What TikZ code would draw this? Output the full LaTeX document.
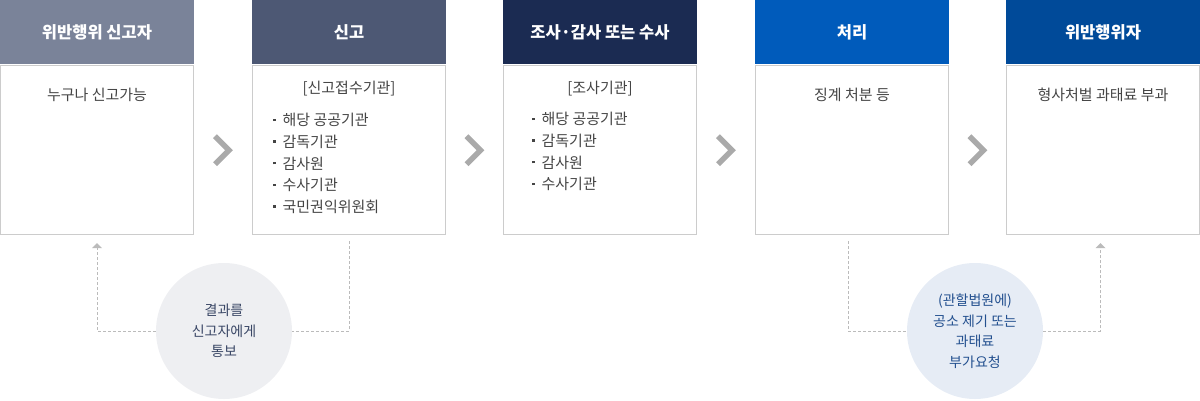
\documentclass[tikz,border=0pt]{standalone}
\usepackage{fontspec}
\setmainfont{Noto Sans CJK KR}
\usepackage{tikz}
\usetikzlibrary{positioning}
\usetikzlibrary{calc}

\definecolor{headA}{HTML}{7A8399}
\definecolor{headB}{HTML}{4D5874}
\definecolor{headC}{HTML}{1B2B52}
\definecolor{headD}{HTML}{005BBB}
\definecolor{headE}{HTML}{004A99}
\definecolor{lineGray}{HTML}{CCCCCC}
\definecolor{txtGray}{HTML}{444444}
\definecolor{chevGray}{HTML}{AAAAAA}
\definecolor{dashGray}{HTML}{BBBBBB}
\definecolor{circA}{HTML}{EEEFF2}
\definecolor{circB}{HTML}{E6ECF5}
\definecolor{circAtxt}{HTML}{3A4766}
\definecolor{circBtxt}{HTML}{23508F}

\newcommand{\bul}{\rule[4.8pt]{2.4pt}{2.4pt}\hspace{7pt}}

\begin{document}
\begin{tikzpicture}[x=1pt,y=-1pt,
    head/.style={minimum width=194pt,minimum height=64pt,inner sep=0pt,text=white,font=\fontsize{16.5}{19}\selectfont\bfseries},
    body/.style={draw=lineGray,line width=1pt,minimum width=193pt,minimum height=169pt,inner sep=0pt},
    txt/.style={text=txtGray,font=\fontsize{15}{18}\selectfont,inner sep=0pt},
    item/.style={txt,anchor=west},
    chev/.style={draw=chevGray,line width=5.5pt},
    bubble/.style={circle,minimum size=136pt,inner sep=0pt,align=center,font=\fontsize{14}{20.5}\selectfont},
    dashline/.style={draw=dashGray,line width=0.8pt,dash pattern=on 3pt off 2pt}]
        \useasboundingbox (0,0) rectangle (1200,400);

        % headers
        \node[head,fill=headA] (head1) at (97,32) {위반행위 신고자};
        \node[head,fill=headB] (head2) at (349,32) {신고};
        \node[head,fill=headC] (head3) at (600,32) {조사·감사 또는 수사};
        \node[head,fill=headD] (head4) at (852,32) {처리};
        \node[head,fill=headE] (head5) at (1103,32) {위반행위자};

        % boxes
        \node[body,below=1pt of head1] (body1) {};
        \node[body,below=1pt of head2] (body2) {};
        \node[body,below=1pt of head3] (body3) {};
        \node[body,below=1pt of head4] (body4) {};
        \node[body,below=1pt of head5] (body5) {};

        \node[txt] at ([yshift=-30pt]body1.north) {누구나 신고가능};
        \node[txt] at ([yshift=-23pt]body2.north) {[신고접수기관]};
        \foreach \t [count=\i] in {해당 공공기관,감독기관,감사원,수사기관,국민권익위원회}
            \node[item] (itemB\i) at (273,98.5+21.7*\i) {\bul\t};
        \node[txt] at ([yshift=-23pt]body3.north) {[조사기관]};
        \foreach \t [count=\i] in {해당 공공기관,감독기관,감사원,수사기관}
            \node[item] (itemC\i) at (532,97.5+21.7*\i) {\bul\t};
        \node[txt] at ([yshift=-30pt]body4.north) {징계 처분 등};
        \node[txt] at ([yshift=-30pt]body5.north) {형사처벌 과태료 부과};

        % chevrons
        \foreach \a/\b in {body1/body2,body2/body3,body3/body4,body4/body5}
            \draw[chev] ($(\a.east)!0.5!(\b.west)+(-8,-14)$) -- ++(14,14) -- ++(-14,14);

        % feedback
        \node[bubble,fill=circA,text=circAtxt] (notify) at (224,331) {결과를\\신고자에게\\통보};
        \node[bubble,fill=circB,text=circBtxt] (request) at (975,331) {(관할법원에)\\공소 제기 또는\\과태료\\부가요청};

        \draw[dashline] ([yshift=-6pt]body2.south) |- (notify);
        \draw[dashline] (notify) -| ([yshift=-9pt]body1.south);
        \fill[dashGray] ([yshift=-8pt]body1.south) -- ++(-5,5) -- ++(10,0) -- cycle;
        \draw[dashline] ([xshift=-4pt,yshift=-6pt]body4.south) |- (request);
        \draw[dashline] (request) -| ([xshift=-2.5pt,yshift=-9pt]body5.south);
        \fill[dashGray] ([xshift=-2.5pt,yshift=-8pt]body5.south) -- ++(-5,5) -- ++(10,0) -- cycle;
\end{tikzpicture}
\end{document}
